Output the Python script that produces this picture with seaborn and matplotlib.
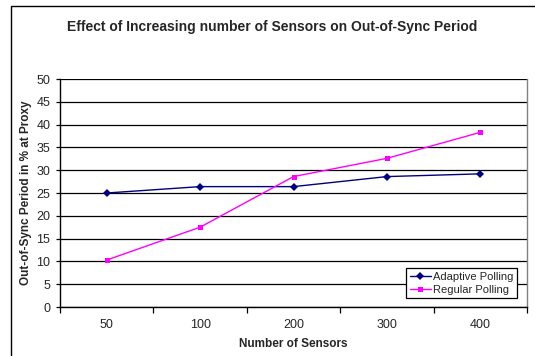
import matplotlib
matplotlib.use("Agg")
import matplotlib.pyplot as plt
from matplotlib.patches import Rectangle
from matplotlib.ticker import FixedLocator, NullFormatter
import seaborn as sns
import pandas as pd

sensors = ["50", "100", "200", "300", "400"]
adaptive = [25.0, 26.4, 26.4, 28.6, 29.2]
regular = [10.3, 17.5, 28.6, 32.6, 38.3]
series_names = ["Adaptive Polling", "Regular Polling"]

sns.set_theme(style="white")
plt.rcParams["font.family"] = ["Liberation Sans", "DejaVu Sans"]

rows = []
for name, vals in zip(series_names, [adaptive, regular]):
    for i, (s, v) in enumerate(zip(sensors, vals)):
        rows.append({"pos": i, "Sensors": s, "value": v, "series": name})
df = pd.DataFrame(rows)

W, H = 535, 356
fig = plt.figure(figsize=(W / 100, H / 100), dpi=100)
fig.patch.set_facecolor("white")

# chart-area frame
fig.add_artist(Rectangle((11 / W, -0.05), 1.2, 1 - 6 / H + 0.05,
                         transform=fig.transFigure, fill=False,
                         edgecolor="black", linewidth=1.0))

left, right, top, bottom = 60, 527, 79, 307
ax = fig.add_axes([left / W, 1 - bottom / H, (right - left) / W, (bottom - top) / H])

palette = {"Adaptive Polling": "#000080", "Regular Polling": "#FF00FF"}
markers = {"Adaptive Polling": "D", "Regular Polling": "s"}
sns.lineplot(data=df, x="pos", y="value", hue="series", style="series",
             palette=palette, markers=markers, dashes=False, ax=ax,
             linewidth=1.0, markersize=3.6, markeredgewidth=0)

ax.set_xlim(-0.5, 4.5)
ax.set_ylim(0, 50)
ax.set_yticks(range(0, 51, 5))
ax.yaxis.grid(True, color="black", linewidth=0.9)
ax.set_axisbelow(True)

ax.set_xticks(range(len(sensors)))
ax.set_xticklabels(sensors)
ax.xaxis.set_minor_locator(FixedLocator([i - 0.5 for i in range(len(sensors) + 1)]))
ax.xaxis.set_minor_formatter(NullFormatter())
ax.tick_params(axis="x", which="major", length=0, pad=9, labelsize=9)
ax.tick_params(axis="x", which="minor", bottom=True, length=4, width=0.9, color="black", direction="out")
ax.tick_params(axis="y", left=True, length=3, width=0.9, color="black", labelsize=9, pad=4)

for sp in ["left", "bottom"]:
    ax.spines[sp].set_color("black")
    ax.spines[sp].set_linewidth(1.0)
ax.spines["top"].set_visible(False)
ax.spines["right"].set_color("#808080")
ax.spines["right"].set_linewidth(1.0)

ax.set_xlabel("Number of Sensors", fontsize=8.5, fontweight="bold", labelpad=5)
ax.set_ylabel("Out-of-Sync Period in % at Proxy", fontsize=8.5, fontweight="bold", labelpad=3)

fig.text(272 / W, 1 - 27 / H, "Effect of Increasing number of Sensors on Out-of-Sync Period",
         ha="center", va="center", fontsize=10, fontweight="bold")

leg = ax.legend(title=None, loc="lower right", bbox_to_anchor=(0.978, 0.04),
                fontsize=8, frameon=True, fancybox=False, framealpha=1,
                borderpad=0.3, labelspacing=0.25, handlelength=1.9, handletextpad=0.2,
                borderaxespad=0)
leg.get_frame().set_edgecolor("black")
leg.get_frame().set_linewidth(0.9)

fig.savefig("out.png", dpi=100)
